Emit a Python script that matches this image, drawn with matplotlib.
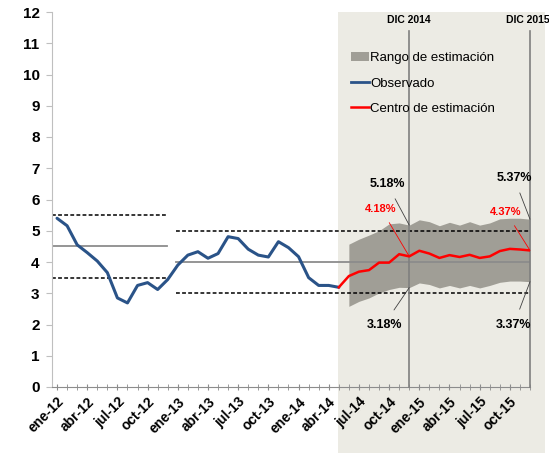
import matplotlib
matplotlib.use("Agg")
from matplotlib import pyplot as plt
from matplotlib.patches import Rectangle, Patch
from matplotlib.lines import Line2D

plt.rcParams["font.family"] = ["Liberation Sans", "DejaVu Sans"]

# month labels (every 3 months)
tick_labels = ["ene-12", "abr-12", "jul-12", "oct-12", "ene-13", "abr-13", "jul-13",
               "oct-13", "ene-14", "abr-14", "jul-14", "oct-14", "ene-15", "abr-15",
               "jul-15", "oct-15"]

# observed inflation, ene-12 .. may-14
observado = [5.40, 5.16, 4.55, 4.30, 4.03, 3.66, 2.85, 2.69, 3.25, 3.34, 3.12, 3.44,
             3.90, 4.22, 4.33, 4.12, 4.27, 4.81, 4.75, 4.41, 4.22, 4.16, 4.65, 4.46,
             4.17, 3.50, 3.25, 3.25, 3.19]

# estimation centre, may-14 .. dic-15
centro = [3.19, 3.55, 3.69, 3.74, 3.98, 3.98, 4.25, 4.18, 4.36, 4.27, 4.13, 4.22,
          4.16, 4.23, 4.13, 4.18, 4.35, 4.42, 4.40, 4.37]

# estimation range, jun-14 .. dic-15
rango_sup = [4.57, 4.73, 4.86, 5.00, 5.22, 5.25, 5.18, 5.35, 5.29, 5.16, 5.27, 5.18,
             5.29, 5.18, 5.25, 5.38, 5.40, 5.40, 5.37]
rango_inf = [2.58, 2.74, 2.85, 3.01, 3.12, 3.19, 3.18, 3.33, 3.28, 3.17, 3.25, 3.17,
             3.25, 3.17, 3.25, 3.35, 3.39, 3.39, 3.37]

# target bands: (start, end, centre, low, high)
meta_2012 = (-0.5, 10.9, 4.5, 3.5, 5.5)
meta_2013 = (11.8, 47.2, 4.0, 3.0, 5.0)

W, H = 549, 453
fig = plt.figure(figsize=(W / 100, H / 100), dpi=100)
ax = fig.add_axes([52 / W, (H - 387) / H, (530 - 52) / W, (387 - 12) / H])
ax.patch.set_alpha(0)

# shaded forecast area (extends over tick labels)
fig.add_artist(Rectangle((338 / W, 0), (545 - 338) / W, (H - 12) / H,
                         transform=fig.transFigure, facecolor="#ecebe4",
                         edgecolor="none", zorder=-10))

n_obs = len(observado)
x_obs = list(range(n_obs))
x_cen = list(range(n_obs - 1, n_obs - 1 + len(centro)))
x_rng = list(range(n_obs, n_obs + len(rango_sup)))

for x0, x1, c, lo, hi in (meta_2012, meta_2013):
    ax.plot([x0, x1], [c, c], color="#8c8c8c", lw=1.3, zorder=2)
    ax.plot([x0, x1], [lo, lo], color="black", lw=1.1, ls=(0, (2.5, 1.5)), zorder=2)
    ax.plot([x0, x1], [hi, hi], color="black", lw=1.1, ls=(0, (2.5, 1.5)), zorder=2)

ax.fill_between(x_rng, rango_inf, rango_sup, color="#a09e96", lw=0, zorder=1)
ax.plot(x_obs, observado, color="#2a5388", lw=2.2, zorder=4, solid_capstyle="round")
ax.plot(x_cen, centro, color="#ff0000", lw=1.8, zorder=4)

# December markers
for xv, lab, xoff in ((35, "DIC 2014", 0), (47, "DIC 2015", -0.2)):
    ax.plot([xv, xv], [0, 11.4], color="#7f7f7f", lw=1.2, zorder=3, clip_on=False)
    ax.text(xv + xoff, 11.75, lab, ha="center", va="center", fontsize=7.5,
            fontweight="bold")

# annotations
ann = [
    ("5.18%", 35, 5.18, 32.8, 6.5, "black"),
    ("4.18%", 35, 4.18, 32.2, 5.7, "red"),
    ("3.18%", 35, 3.18, 32.5, 2.0, "black"),
    ("5.37%", 47, 5.37, 45.4, 6.7, "black"),
    ("4.37%", 47, 4.37, 44.6, 5.6, "red"),
    ("3.37%", 47, 3.37, 45.4, 2.0, "black"),
]
for txt, xv, yv, tx, ty, col in ann:
    ax.annotate(txt, xy=(xv, yv), xytext=(tx, ty), ha="center", va="center",
                fontsize=9 if col == "black" else 8, fontweight="bold",
                color=col, zorder=6,
                arrowprops=dict(arrowstyle="-", color=col if col == "red" else "#404040",
                                lw=0.6, shrinkA=5, shrinkB=0))

ax.set_xlim(-0.5, 47)
ax.set_ylim(0, 12)
ax.set_yticks(range(0, 13))
ax.set_xticks(range(0, 48, 3))
ax.set_xticklabels(tick_labels, rotation=45, ha="right", rotation_mode="anchor",
                   fontsize=10, fontweight="bold")
ax.set_xticks(range(0, 48), minor=True)
ax.tick_params(axis="x", which="both", direction="inout", length=5, color="#8c8c8c",
               pad=3)
ax.tick_params(axis="y", length=4, color="#bfbfbf", labelsize=11, pad=5)
for lab in ax.get_yticklabels():
    lab.set_fontweight("bold")
ax.spines["top"].set_visible(False)
ax.spines["right"].set_visible(False)
ax.spines["left"].set_color("#bfbfbf")
ax.spines["bottom"].set_color("#8c8c8c")

handles = [Patch(facecolor="#a09e96", edgecolor="none"),
           Line2D([0], [0], color="#2a5388", lw=2),
           Line2D([0], [0], color="#ff0000", lw=1.8)]
leg = ax.legend(handles, ["Rango de estimación", "Observado", "Centro de estimación"],
                loc="upper left", bbox_to_anchor=(0.6, 0.925), frameon=False,
                handlelength=1.4, handletextpad=0.1, labelspacing=1.0,
                prop={"size": 9.5})
leg.set_zorder(7)

fig.savefig("out.png", dpi=100)
